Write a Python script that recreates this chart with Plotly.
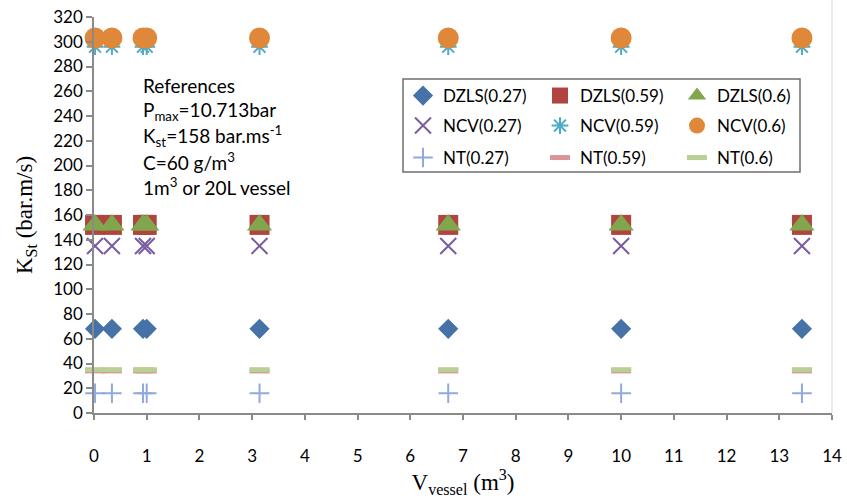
import plotly.graph_objects as go

# Vessel volumes (m3) and K_St values (bar.m/s) per model / concentration
vessel_volume = [0.02, 0.34, 0.93, 1.0, 3.14, 6.72, 10.0, 13.43]

series_names = [
    "DZLS(0.27)", "DZLS(0.59)", "DZLS(0.6)",
    "NCV(0.27)", "NCV(0.59)", "NCV(0.6)",
    "NT(0.27)", "NT(0.59)", "NT(0.6)",
]
dzls_027 = [68] * 8
dzls_059 = [152] * 8
dzls_06 = [152] * 8
ncv_027 = [135] * 8
ncv_059 = [296] * 8
ncv_06 = [303] * 8
nt_027 = [16] * 8
nt_059 = [34] * 8
nt_06 = [35] * 8
series_values = [dzls_027, dzls_059, dzls_06, ncv_027, ncv_059, ncv_06, nt_027, nt_059, nt_06]

# marker styles: (symbol, size, fill colour, line colour, line width)
styles = [
    ("diamond", 15.5, "#4572A7", "#4572A7", 0),
    ("square", 20, "#B0443F", "#B0443F", 0),
    ("triangle-up", 22, "#82A64E", "#82A64E", 0),
    ("x-thin-open", 16, "#7A5C9E", "#7A5C9E", 2),
    ("asterisk-open", 14, "#4BACC6", "#4BACC6", 2),
    ("circle", 21, "#E0883A", "#E0883A", 0),
    ("cross-thin-open", 14, "#8FAADC", "#8FAADC", 2),
    ("line-ew-open", 14.3, "#D99694", "#D99694", 5),
    ("line-ew-open", 14.3, "#B9CF93", "#B9CF93", 5),
]

legend_ids = ["legend", "legend", "legend", "legend2", "legend2", "legend2", "legend3", "legend3", "legend3"]

fig = go.Figure()
for name, vals, (sym, size, fill, lc, lw), lg in zip(series_names, series_values, styles, legend_ids):
    fig.add_trace(go.Scatter(
        x=vessel_volume, y=vals, name=name, mode="markers", cliponaxis=False,
        legend=lg,
        marker=dict(symbol=sym, size=size, color=fill, line=dict(color=lc, width=lw)),
    ))

# plot area geometry in pixels (used for paper coordinates of text and frame)
L, R, T, B = 94, 832, 17, 413
W, H = R - L, B - T


def px_x(p):
    return (p - L) / W


def px_y(p):
    return (B - p) / H


tick_font = dict(family="Lato, Liberation Sans, sans-serif", size=17, color="#000000")
title_font = dict(family="Liberation Serif, Times New Roman, serif", size=23, color="#000000")

legend_common = dict(
    orientation="h", xanchor="left", yanchor="middle", x=px_x(403),
    font=dict(family="Lato, Liberation Sans, sans-serif", size=17, color="#000000"),
    bgcolor="rgba(0,0,0,0)", borderwidth=0, entrywidth=92, entrywidthmode="pixels",
    itemwidth=30, tracegroupgap=0,
)

notes = [
    "References",
    "P<sub>max</sub>=10.713bar",
    "K<sub>st</sub>=158 bar.ms<sup>-1</sup>",
    "C=60 g/m<sup>3</sup>",
    "1m<sup>3</sup> or 20L vessel",
]
note_rows = [86, 111, 136, 161, 186]
annotations = [
    dict(text=t, x=px_x(141), y=px_y(r), xref="paper", yref="paper",
         xanchor="left", yanchor="middle", showarrow=False,
         font=dict(family="Lato, Liberation Sans, sans-serif", size=19, color="#000000"))
    for t, r in zip(notes, note_rows)
]

fig.update_layout(
    width=847, height=502,
    margin=dict(l=L, r=847 - R, t=T, b=502 - B),
    paper_bgcolor="white", plot_bgcolor="white",
    showlegend=True,
    legend=dict(legend_common, y=px_y(96)),
    legend2=dict(legend_common, y=px_y(126)),
    legend3=dict(legend_common, y=px_y(158)),
    annotations=annotations,
    shapes=[
        dict(type="rect", xref="paper", yref="paper",
             x0=px_x(403), x1=px_x(800), y0=px_y(172), y1=px_y(79),
             line=dict(color="#6E6E6E", width=1.5), fillcolor="rgba(0,0,0,0)"),
        dict(type="line", xref="paper", yref="paper",
             x0=1, x1=1, y0=0, y1=px_y(0),
             line=dict(color="#D9D9D9", width=1)),
    ],
    xaxis=dict(
        range=[0, 14], dtick=1, tick0=0, showgrid=False, zeroline=False,
        showline=True, linecolor="#8A8A8A", linewidth=1.5, automargin=False,
        ticks="outside", ticklen=5, tickcolor="#8A8A8A", tickwidth=1.5,
        tickfont=tick_font, ticklabelstandoff=22,
        title=dict(text="V<sub>vessel</sub> (m<sup>3</sup>)", font=title_font, standoff=8),
    ),
    yaxis=dict(
        range=[0, 320], dtick=20, tick0=0, showgrid=False, zeroline=False,
        showline=True, linecolor="#8A8A8A", linewidth=1.5, automargin=False,
        ticks="outside", ticklen=6, tickcolor="#8A8A8A", tickwidth=1.5,
        tickfont=tick_font,
        title=dict(text="K<sub>St</sub> (bar.m/s)", font=title_font, standoff=14),
    ),
)

fig.write_html("out.html")
